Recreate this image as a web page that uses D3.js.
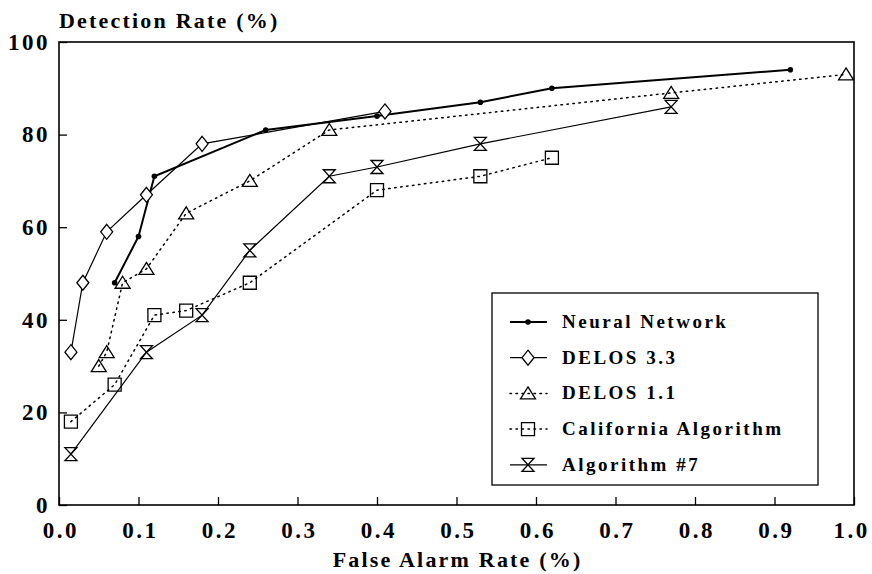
<!DOCTYPE html>
<html>
<head>
<meta charset="utf-8">
<script src="https://cdn.jsdelivr.net/npm/d3@7"></script>
<style>
  body { margin: 0; background: #fff; }
</style>
</head>
<body>
<svg id="chart"></svg>
<script>
// values
let nnX = [0.07, 0.10, 0.12, 0.26, 0.40, 0.53, 0.62, 0.92];
let nnY = [48, 58, 71, 81, 84, 87, 90, 94];

let delos33X = [0.015, 0.03, 0.06, 0.11, 0.18, 0.41];
let delos33Y = [33, 48, 59, 67, 78, 85];

let delos11X = [0.05, 0.06, 0.08, 0.11, 0.16, 0.24, 0.34, 0.77, 0.99];
let delos11Y = [30, 33, 48, 51, 63, 70, 81, 89, 93];

let califX = [0.015, 0.07, 0.12, 0.16, 0.24, 0.40, 0.53, 0.62];
let califY = [18, 26, 41, 42, 48, 68, 71, 75];

let alg7X = [0.015, 0.11, 0.18, 0.24, 0.34, 0.40, 0.53, 0.77];
let alg7Y = [11, 33, 41, 55, 71, 73, 78, 86];

let seriesNames = ["Neural Network", "DELOS 3.3", "DELOS 1.1", "California Algorithm", "Algorithm #7"];
let xTicks = [0, 0.1, 0.2, 0.3, 0.4, 0.5, 0.6, 0.7, 0.8, 0.9, 1.0];
let yTicks = [0, 20, 40, 60, 80, 100];

let W = 872, H = 574;
let margin = {top: 42, right: 18, bottom: 69, left: 59};
let serif = "Times New Roman, Liberation Serif, Tinos, DejaVu Serif, serif";

let svg = d3.select("#chart").attr("width", W).attr("height", H);

let x = d3.scaleLinear().domain([0, 1]).range([margin.left, W - margin.right]);
let y = d3.scaleLinear().domain([0, 100]).range([H - margin.bottom, margin.top]);

// marker shapes
function markerPath(type) {
    if (type === "diamond") return "M0,-7.5L6,0L0,7.5L-6,0Z";
    if (type === "triangle") return "M0,-6.5L7.5,5.5L-7.5,5.5Z";
    if (type === "square") return "M-6.5,-6.5H6.5V6.5H-6.5Z";
    if (type === "hourglass") return "M-6,-6.5H6L-6,6.5H6Z";
    return null;
}

let series = [
    {name: seriesNames[0], xs: nnX, ys: nnY, width: 2, dash: null, marker: "dot"},
    {name: seriesNames[1], xs: delos33X, ys: delos33Y, width: 1.2, dash: null, marker: "diamond"},
    {name: seriesNames[2], xs: delos11X, ys: delos11Y, width: 1.5, dash: "1.5,4.5", marker: "triangle"},
    {name: seriesNames[3], xs: califX, ys: califY, width: 1.5, dash: "1.5,4.5", marker: "square"},
    {name: seriesNames[4], xs: alg7X, ys: alg7Y, width: 1.2, dash: null, marker: "hourglass"}
];

function bold(sel, size, spacing) {
    sel.attr("font-family", serif)
        .attr("font-weight", "bold")
        .attr("font-size", size)
        .attr("letter-spacing", spacing)
        .attr("fill", "#000");
}

// axes (inward ticks)
let xAxis = svg.append("g")
    .attr("transform", "translate(0," + y(0) + ")")
    .call(d3.axisBottom(x).tickValues(xTicks).tickFormat(d3.format(".1f"))
        .tickSizeInner(-8).tickSizeOuter(0).tickPadding(17));
let yAxis = svg.append("g")
    .attr("transform", "translate(" + x(0) + ",0)")
    .call(d3.axisLeft(y).tickValues(yTicks).tickFormat(d3.format("d"))
        .tickSizeInner(-8).tickSizeOuter(0).tickPadding(9));

[xAxis, yAxis].forEach(function (g) {
    g.attr("font-family", null).attr("font-size", null);
    g.select(".domain").remove();
    g.selectAll("line").attr("stroke", "#000").attr("stroke-width", 1.3);
    bold(g.selectAll("text"), 23, 2.5);
});
xAxis.selectAll("text").attr("dx", 1.25);
xAxis.selectAll("text").filter(function (d) { return d === 1; }).attr("dx", -3);

// frame
svg.append("rect")
    .attr("x", x(0)).attr("y", y(100))
    .attr("width", x(1) - x(0)).attr("height", y(0) - y(100))
    .attr("fill", "none").attr("stroke", "#000").attr("stroke-width", 1.6);

// titles
svg.append("text")
    .attr("x", x(0)).attr("y", 28)
    .call(bold, 22, 2.2)
    .text("Detection Rate (%)");
svg.append("text")
    .attr("x", (x(0) + x(1)) / 2 + 1.1).attr("y", 567)
    .attr("text-anchor", "middle")
    .call(bold, 22, 2.2)
    .text("False Alarm Rate (%)");

// lines and markers
let line = d3.line().x(function (d) { return x(d[0]); }).y(function (d) { return y(d[1]); });

function drawMarker(g, type, cx, cy) {
    if (type === "dot") {
        g.append("circle").attr("cx", cx).attr("cy", cy).attr("r", 2.8).attr("fill", "#000");
    } else {
        g.append("path")
            .attr("d", markerPath(type))
            .attr("transform", "translate(" + cx + "," + cy + ")")
            .attr("fill", type === "diamond" ? "#fff" : "none")
            .attr("stroke", "#000")
            .attr("stroke-width", 1.3);
    }
}

series.forEach(function (s) {
    let pts = d3.zip(s.xs, s.ys);
    let g = svg.append("g");
    g.append("path")
        .datum(pts)
        .attr("d", line)
        .attr("fill", "none")
        .attr("stroke", "#000")
        .attr("stroke-width", s.width)
        .attr("stroke-dasharray", s.dash)
        .attr("stroke-linecap", s.dash ? "round" : "butt");
    pts.forEach(function (p) {
        drawMarker(g, s.marker, x(p[0]), y(p[1]));
    });
});

// legend
let lg = svg.append("g");
lg.append("rect")
    .attr("x", 492).attr("y", 293)
    .attr("width", 326).attr("height", 192)
    .attr("fill", "#fff").attr("stroke", "#000").attr("stroke-width", 1.3);

series.forEach(function (s, i) {
    let cy = 322 + i * 35.7;
    lg.append("line")
        .attr("x1", 510).attr("x2", 547)
        .attr("y1", cy).attr("y2", cy)
        .attr("stroke", "#000")
        .attr("stroke-width", s.width)
        .attr("stroke-dasharray", s.dash)
        .attr("stroke-linecap", s.dash ? "round" : "butt");
    drawMarker(lg, s.marker, 528, cy);
    lg.append("text")
        .attr("x", 562).attr("y", cy + 6)
        .call(bold, 19, 2.5)
        .text(s.name);
});
</script>
</body>
</html>
